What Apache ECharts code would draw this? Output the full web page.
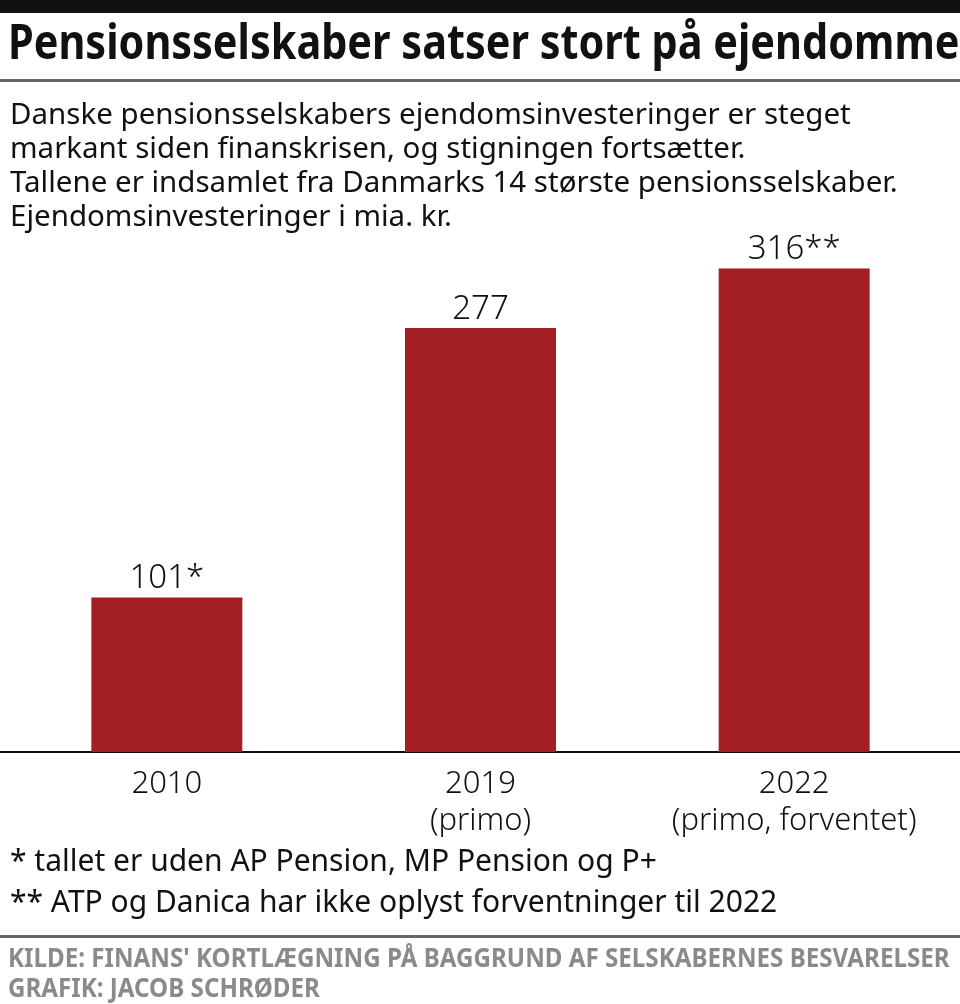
<!DOCTYPE html>
<html>
<head>
<meta charset="utf-8">
<script src="https://cdn.jsdelivr.net/npm/echarts@6/dist/echarts.min.js"></script>
<style>
  html, body { margin: 0; padding: 0; background: #fff; }
  #chart { width: 960px; height: 1004px; }
</style>
</head>
<body>
<div id="chart"></div>
<script>
// data
const categories = ['2010\n', '2019\n(primo)', '2022\n(primo, forventet)']
const values = [101, 277, 316]
const valueLabels = ['101*', '277', '316**']

const titleText = 'Pensionsselskaber satser stort på ejendomme'
const subText = [
  'Danske pensionsselskabers ejendomsinvesteringer er steget',
  'markant siden finanskrisen, og stigningen fortsætter.',
  'Tallene er indsamlet fra Danmarks 14 største pensionsselskaber.',
  'Ejendomsinvesteringer i mia. kr.'
]
const notes = [
  '* tallet er uden AP Pension, MP Pension og P+',
  '** ATP og Danica har ikke oplyst forventninger til 2022'
]
const source = [
  "KILDE: FINANS' KORTLÆGNING PÅ BAGGRUND AF SELSKABERNES BESVARELSER",
  'GRAFIK: JACOB SCHRØDER'
]

const RED = '#a31f24'
const BODY_FONT = '"Noto Sans", "Open Sans", sans-serif'

const chart = echarts.init(document.getElementById('chart'))

const option = {
  animation: false,
  backgroundColor: '#fff',
  grid: { left: 10, right: 9, top: 247, bottom: 252, containLabel: false },
  xAxis: {
    type: 'category',
    data: categories,
    axisLine: { show: true, lineStyle: { color: '#111', width: 2 } },
    axisTick: { show: false },
    axisLabel: {
      interval: 0,
      color: '#111',
      fontFamily: BODY_FONT,
      fontSize: 31,
      fontWeight: 300,
      lineHeight: 37,
      margin: 14,
      verticalAlign: 'top',
      formatter: v => v.replace(/\n$/, '')
    }
  },
  yAxis: {
    type: 'value',
    min: 0,
    max: 330,
    show: false,
    splitLine: { show: false }
  },
  series: [{
    type: 'bar',
    data: values,
    barWidth: 151,
    itemStyle: { color: RED },
    label: {
      show: true,
      position: 'top',
      distance: 2,
      color: '#111',
      fontFamily: BODY_FONT,
      fontSize: 33,
      fontWeight: 300,
      formatter: p => valueLabels[p.dataIndex]
    }
  }],
  graphic: [
    // top black band
    { type: 'rect', x: 0, y: 0, shape: { width: 960, height: 13 }, style: { fill: '#111' } },
    { type: 'text', x: 8, y: 21, scaleX: 0.845, style: {
      text: titleText, fill: '#111', font: 'bold 49px ' + BODY_FONT, verticalAlign: 'top' } },
    { type: 'rect', x: 0, y: 79, shape: { width: 960, height: 3 }, style: { fill: '#666' } },
    { type: 'text', x: 10, y: 99, style: {
      text: subText.join('\n'), fill: '#111', font: '29.5px ' + BODY_FONT, lineHeight: 34, verticalAlign: 'top' } },
    // baseline extended across full width
    { type: 'rect', x: 0, y: 751, z: -1, shape: { width: 960, height: 2 }, style: { fill: '#111' } },
    { type: 'text', x: 10, y: 842, style: {
      text: notes.join('\n'), fill: '#111', font: '30px ' + BODY_FONT, lineHeight: 41, verticalAlign: 'top' } },
    { type: 'rect', x: 0, y: 935, shape: { width: 960, height: 3 }, style: { fill: '#666' } },
    { type: 'text', x: 8, y: 944, scaleX: 0.895, style: {
      text: source.join('\n'), fill: '#8a8a8a', font: 'bold 27px ' + BODY_FONT, lineHeight: 30, verticalAlign: 'top' } }
  ]
}

chart.setOption(option)
</script>
</body>
</html>
